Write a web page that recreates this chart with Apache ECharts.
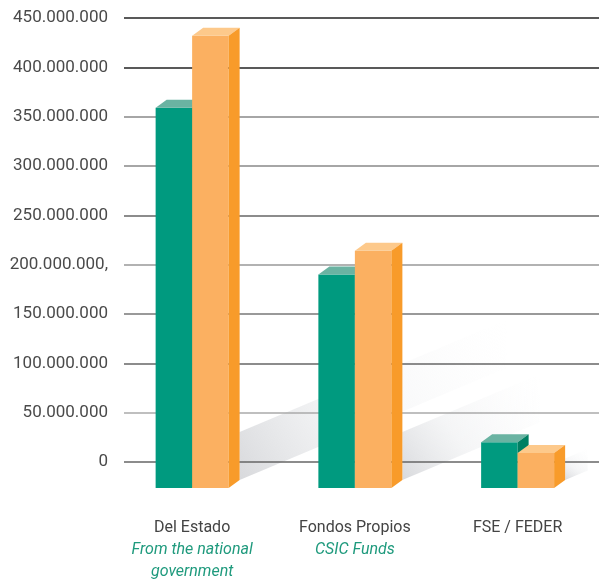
<!DOCTYPE html>
<html>
<head>
<meta charset="utf-8">
<script src="https://cdn.jsdelivr.net/npm/echarts@6/dist/echarts.min.js"></script>
<style>
  html, body { margin: 0; padding: 0; background: #fff; }
  #chart { width: 599px; height: 583px; }
</style>
</head>
<body>
<div id="chart"></div>
<script>
// data
const categories = ['Del Estado', 'Fondos Propios', 'FSE / FEDER'];
const subtitles = ['From the national\ngovernment', 'CSIC Funds', ''];
const greenValues = [359000000, 190000000, 20000000];
const orangeValues = [432000000, 214000000, 9000000];
const yTickLabels = ['0', '50.000.000', '100.000.000', '150.000.000', '200.000.000,',
  '250.000.000', '300.000.000', '350.000.000', '400.000.000', '450.000.000'];

// 3d look
const BAR_W = 36.5, DX = 11, DY = 8, DROP = 26;
const green = { front: '#009a7f', top: '#6ab3a2', side: '#007f62' };
const orange = { front: '#fbb061', top: '#fdc98b', side: '#f89b2a' };

function barRender(side, c) {
  return function (params, api) {
    const i = api.value(0);
    const top = api.coord([i, api.value(1)]);
    const base = api.coord([i, 0]);
    const x0 = side < 0 ? top[0] - BAR_W : top[0];
    const x1 = x0 + BAR_W;
    const yT = top[1], yB = base[1] + DROP;
    return {
      type: 'group',
      children: [
        { type: 'rect', shape: { x: x0, y: yT, width: BAR_W, height: yB - yT }, style: { fill: c.front } },
        { type: 'polygon', shape: { points: [[x0, yT], [x0 + DX, yT - DY], [x1 + DX, yT - DY], [x1, yT]] }, style: { fill: c.top } },
        { type: 'polygon', shape: { points: [[x1, yT], [x1 + DX, yT - DY], [x1 + DX, yB - DY], [x1, yB]] }, style: { fill: c.side } }
      ]
    };
  };
}

function shadowRender(params, api) {
  const i = api.value(0);
  const v = Math.max(api.value(1), api.value(2));
  const top = api.coord([i, v]);
  const base = api.coord([i, 0]);
  const xs = top[0] + BAR_W + DX;
  const ys = base[1] + DROP - DY;
  const h = ys - top[1];
  const L = 0.6 * h, T = Math.min(48, 0.2 * h + 14), s = 0.42;
  return {
    type: 'polygon',
    shape: { points: [[xs, ys], [xs, ys - T], [xs + L, ys - T - L * s], [xs + L, ys - L * s]] },
    style: {
      fill: new echarts.graphic.LinearGradient(0, 1, 1, 0, [
        { offset: 0, color: 'rgba(190,192,197,0.6)' },
        { offset: 0.4, color: 'rgba(225,227,230,0.35)' },
        { offset: 1, color: 'rgba(245,246,247,0)' }
      ])
    }
  };
}

const chart = echarts.init(document.getElementById('chart'), null, { renderer: 'canvas' });
const font = 'Roboto, "Liberation Sans", sans-serif';

chart.setOption({
  animation: false,
  grid: [
    { left: 124, right: 0, top: 18, bottom: 121 },
    { left: 110.75, right: -2.25, top: 18, bottom: 121 }
  ],
  xAxis: [
    { gridIndex: 0, type: 'value', show: false, min: 0, max: 1 },
    {
      gridIndex: 1, type: 'category', data: categories,
      axisLine: { show: false }, axisTick: { show: false },
      axisLabel: {
        margin: 55,
        formatter: function (val, idx) {
          let s = '{a|' + val + '}';
          if (subtitles[idx]) {
            subtitles[idx].split('\n').forEach(function (ln) { s += '\n{b|' + ln + '}'; });
          }
          return s;
        },
        rich: {
          a: { fontFamily: font, fontSize: 16, color: '#444', lineHeight: 22 },
          b: { fontFamily: font, fontSize: 16, fontStyle: 'italic', color: '#1f9a7d', lineHeight: 22 }
        }
      }
    }
  ],
  yAxis: [
    {
      gridIndex: 0, type: 'value', min: 0, max: 450000000, interval: 50000000, z: 1,
      axisLine: { show: false }, axisTick: { show: false },
      axisLabel: {
        margin: 16, fontFamily: font, fontSize: 17, color: '#4a4a4a',
        formatter: function (v) { return yTickLabels[Math.round(v / 50000000)]; }
      },
      splitLine: {
        lineStyle: {
          width: 1.5,
          color: ['#666', '#aaa', '#666', '#777', '#999', '#666', '#888', '#888', '#222', '#222']
        }
      }
    },
    { gridIndex: 1, type: 'value', min: 0, max: 450000000, show: false, splitLine: { show: false } }
  ],
  series: [
    {
      type: 'custom', xAxisIndex: 1, yAxisIndex: 1, z: 0, silent: true,
      renderItem: shadowRender,
      data: categories.map(function (c, i) { return [i, greenValues[i], orangeValues[i]]; })
    },
    {
      type: 'custom', xAxisIndex: 1, yAxisIndex: 1, z: 2,
      renderItem: barRender(-1, green),
      encode: { x: 0, y: 1 },
      data: greenValues.map(function (v, i) { return [i, v]; })
    },
    {
      type: 'custom', xAxisIndex: 1, yAxisIndex: 1, z: 3,
      renderItem: barRender(1, orange),
      encode: { x: 0, y: 1 },
      data: orangeValues.map(function (v, i) { return [i, v]; })
    }
  ]
});
</script>
</body>
</html>
